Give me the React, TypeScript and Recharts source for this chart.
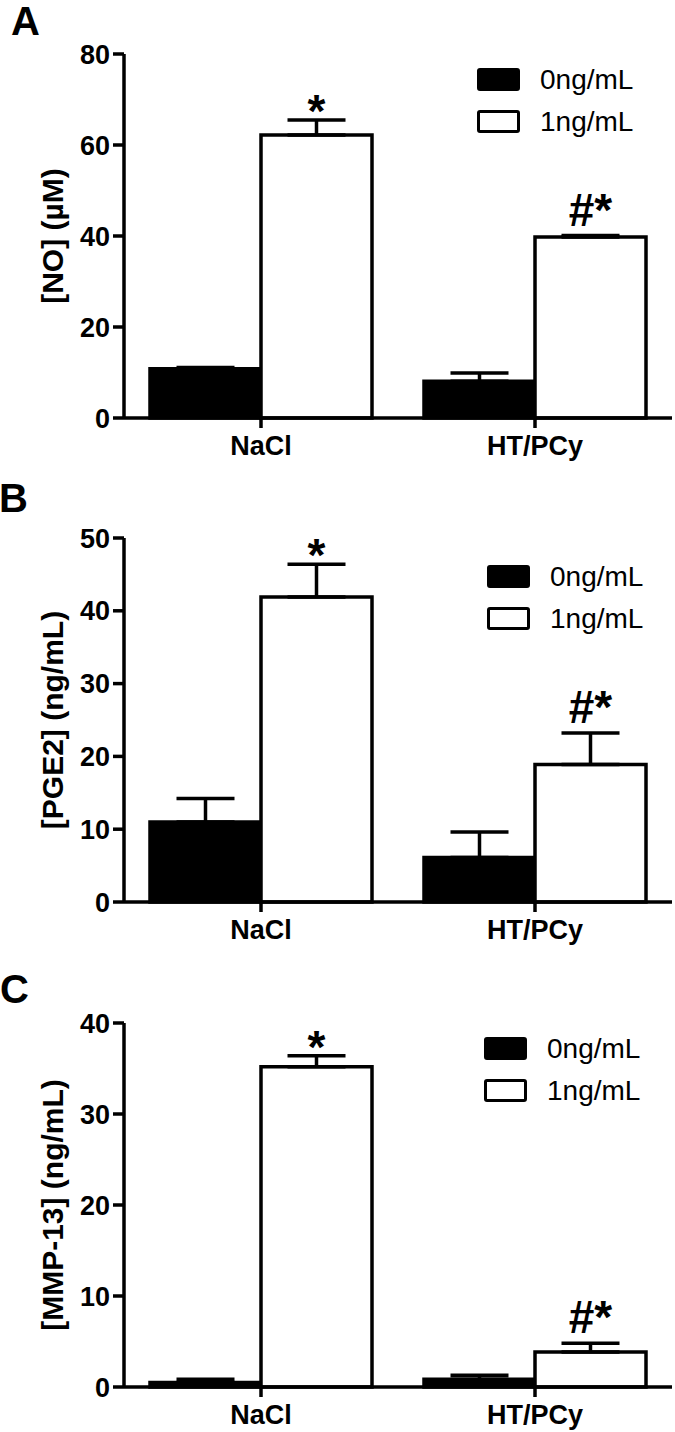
import React from "react";
import { BarChart, Bar, XAxis, YAxis, ErrorBar, LabelList, Legend } from "recharts";

const FONT = '"Liberation Sans", Arial, Helvetica, sans-serif';

const groups = ["NaCl", "HT/PCy"];
const doseLabels = ["0ng/mL", "1ng/mL"];
const sigMarks = ["*", "#*"];

// A: nitric oxide
const noCtrl = [10.8, 8.1];
const noCtrlErr = [0.3, 1.8];
const noTreat = [62.2, 39.8];
const noTreatErr = [3.3, 0.3];
const noTicks = [0, 20, 40, 60, 80];

// B: PGE2
const pgeCtrl = [11.0, 6.1];
const pgeCtrlErr = [3.2, 3.5];
const pgeTreat = [41.9, 18.9];
const pgeTreatErr = [4.5, 4.3];
const pgeTicks = [0, 10, 20, 30, 40, 50];

// C: MMP-13
const mmpCtrl = [0.5, 0.85];
const mmpCtrlErr = [0.35, 0.45];
const mmpTreat = [35.2, 3.85];
const mmpTreatErr = [1.2, 0.95];
const mmpTicks = [0, 10, 20, 30, 40];

type Row = {
  group: string;
  ctrl: number;
  ctrlErr: [number, number];
  treat: number;
  treatErr: [number, number];
  sig: string;
};

function buildRows(ctrl: number[], ctrlErr: number[], treat: number[], treatErr: number[]): Row[] {
  return groups.map((g, i) => ({
    group: g,
    ctrl: ctrl[i],
    ctrlErr: [0, ctrlErr[i]],
    treat: treat[i],
    treatErr: [0, treatErr[i]],
    sig: sigMarks[i],
  }));
}

const panels = [
  {
    letter: "A",
    yLabel: "[NO] (\u00b5M)",
    rows: buildRows(noCtrl, noCtrlErr, noTreat, noTreatErr),
    ticks: noTicks,
    top: 0,
    height: 470,
    marginTop: 54,
    xHeight: 52,
    letterTop: 1,
    letterLeft: 11,
    legendTop: 68,
    legendLeft: 477,
  },
  {
    letter: "B",
    yLabel: "[PGE2] (ng/mL)",
    rows: buildRows(pgeCtrl, pgeCtrlErr, pgeTreat, pgeTreatErr),
    ticks: pgeTicks,
    top: 470,
    height: 480,
    marginTop: 68,
    xHeight: 48,
    letterTop: 8,
    letterLeft: -1,
    legendTop: 95,
    legendLeft: 487,
  },
  {
    letter: "C",
    yLabel: "[MMP-13] (ng/mL)",
    rows: buildRows(mmpCtrl, mmpCtrlErr, mmpTreat, mmpTreatErr),
    ticks: mmpTicks,
    top: 950,
    height: 482,
    marginTop: 73,
    xHeight: 45,
    letterTop: 19,
    letterLeft: 0,
    legendTop: 87,
    legendLeft: 484,
  },
];

const axisTick = { fontSize: 27, fontWeight: "bold", fill: "#000", fontFamily: FONT };

function YLabel(props: any) {
  const vb = props.viewBox || {};
  const cx = 52;
  const cy = (vb.y ?? 0) + (vb.height ?? 0) / 2;
  return (
    <text
      x={cx}
      y={cy}
      transform={`rotate(-90, ${cx}, ${cy})`}
      textAnchor="middle"
      dominantBaseline="central"
      fontFamily={FONT}
      fontWeight="bold"
      fontSize={30}
      fill="#000"
    >
      {props.value}
    </text>
  );
}

function makeSigLabel(rows: Row[]) {
  return (props: any) => {
    const vb = props.viewBox && props.viewBox.width != null ? props.viewBox : props;
    const x = Number(vb.x);
    const y = Number(vb.y);
    const w = Number(vb.width);
    const h = Number(vb.height);
    const row = rows.find((r) => r.sig === props.value);
    if (!row || !isFinite(x)) return null;
    const pxPerUnit = row.treat > 0 ? h / row.treat : 0;
    const errTop = y - row.treatErr[1] * pxPerUnit;
    const baseline = row.sig === "*" ? errTop + 7 : errTop - 10;
    return (
      <text
        x={x + w / 2}
        y={baseline}
        textAnchor="middle"
        fontFamily={FONT}
        fontWeight="bold"
        fontSize={46}
        fill="#000"
      >
        {row.sig}
      </text>
    );
  };
}

function LegendBox(props: any) {
  const items = props.payload || [];
  return (
    <div style={{ display: "flex", flexDirection: "column", gap: 19 }}>
      {items.map((item: any, i: number) => (
        <div key={i} style={{ display: "flex", alignItems: "center", height: 23 }}>
          <div
            style={{
              width: 43,
              height: 23,
              boxSizing: "border-box",
              background: i === 0 ? "#000" : "#fff",
              border: "3.5px solid #000",
              borderRadius: 3,
            }}
          />
          <span
            style={{
              marginLeft: 20,
              fontSize: 28,
              fontFamily: FONT,
              color: "#000",
              lineHeight: "23px",
            }}
          >
            {item.value}
          </span>
        </div>
      ))}
    </div>
  );
}

export default function App() {
  return (
    <div style={{ position: "relative", width: 675, height: 1432, background: "#fff", overflow: "hidden" }}>
      <style>{"body{margin:0;}"}</style>
      {panels.map((p) => (
        <div key={p.letter} style={{ position: "absolute", left: 0, top: p.top, width: 675, height: p.height }}>
          <BarChart
            width={675}
            height={p.height}
            data={p.rows}
            margin={{ top: p.marginTop, right: 3, bottom: 0, left: 0 }}
            barCategoryGap={26}
            barGap={0}
          >
            <XAxis
              dataKey="group"
              height={p.xHeight}
              tick={axisTick}
              tickSize={10}
              tickMargin={8}
              axisLine={{ stroke: "#000", strokeWidth: 3.5 }}
              tickLine={{ stroke: "#000", strokeWidth: 3.5 }}
            />
            <YAxis
              width={124}
              domain={[0, p.ticks[p.ticks.length - 1]]}
              ticks={p.ticks}
              interval={0}
              tick={axisTick}
              tickSize={11}
              tickMargin={3}
              axisLine={{ stroke: "#000", strokeWidth: 3.5 }}
              tickLine={{ stroke: "#000", strokeWidth: 3.5 }}
              label={<YLabel value={p.yLabel} />}
            />
            <Legend
              layout="vertical"
              align="center"
              verticalAlign="middle"
              content={<LegendBox />}
              wrapperStyle={{ top: p.legendTop, left: p.legendLeft, width: "auto", height: "auto" }}
            />
            <Bar
              dataKey="ctrl"
              name={doseLabels[0]}
              fill="#000"
              stroke="#000"
              strokeWidth={3.5}
              isAnimationActive={false}
            >
              <ErrorBar dataKey="ctrlErr" width={29} strokeWidth={3.5} stroke="#000" direction="y" />
            </Bar>
            <Bar
              dataKey="treat"
              name={doseLabels[1]}
              fill="#fff"
              stroke="#000"
              strokeWidth={3.5}
              isAnimationActive={false}
            >
              <ErrorBar dataKey="treatErr" width={29} strokeWidth={3.5} stroke="#000" direction="y" />
              <LabelList dataKey="sig" content={makeSigLabel(p.rows)} />
            </Bar>
          </BarChart>
          <div
            style={{
              position: "absolute",
              left: p.letterLeft,
              top: p.letterTop,
              fontFamily: FONT,
              fontWeight: "bold",
              fontSize: 40,
              lineHeight: "40px",
              color: "#000",
            }}
          >
            {p.letter}
          </div>
        </div>
      ))}
    </div>
  );
}
